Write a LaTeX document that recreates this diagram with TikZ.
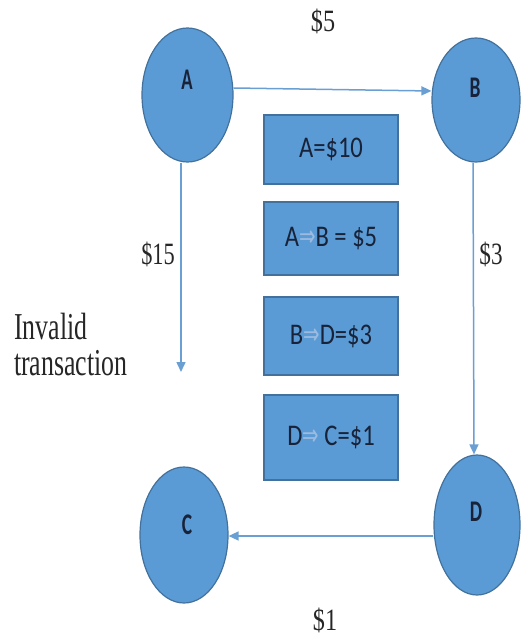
\documentclass[tikz,border=0pt]{standalone}
\usepackage{fontspec}
\usepackage{graphicx}
\setmainfont{Liberation Serif}
\newfontfamily\calib{Carlito}
\newfontfamily\djv{DejaVu Sans}
\usetikzlibrary{arrows.meta,shapes.geometric}
\definecolor{nodefill}{HTML}{5B9BD5}
\definecolor{nodeedge}{HTML}{41719C}
\definecolor{arrowcol}{HTML}{6A9FD4}
\definecolor{ink}{HTML}{18233A}
\definecolor{darrow}{HTML}{9DBBE0}
\newcommand{\sqz}[2]{\scalebox{#1}[1]{#2}}
\newcommand{\darr}{{\color{darrow}\djv\sqz{0.8}{⇒}}}
\tikzset{
  vert/.style={ellipse, draw=nodeedge, fill=nodefill, line width=1.2pt, inner sep=0pt},
  vlabel/.style={font=\calib\fontsize{30}{32}\selectfont, text=ink, inner sep=0pt},
  infobox/.style={rectangle, draw=nodeedge, fill=nodefill, line width=1.2pt, minimum width=134pt,
    font=\calib\fontsize{30}{32}\selectfont, text=ink, inner sep=0pt},
  amount/.style={font=\fontsize{31}{32}\selectfont, text=black!85, inner sep=0pt},
  arr/.style={draw=arrowcol, line width=1.5pt, -{Triangle[length=10pt,width=9pt]}}
}
\begin{document}
\begin{tikzpicture}[x=1pt,y=-1pt]
\useasboundingbox (0,0) rectangle (521,637);
% vertices
\node[vert, minimum width=91pt, minimum height=134pt] (A) at (187.5,95) {};
\node[vert, minimum width=88pt, minimum height=124pt] (B) at (476,100) {};
\node[vert, minimum width=88pt, minimum height=136pt] (C) at (184,535) {};
\node[vert, minimum width=86pt, minimum height=140pt] (D) at (477,525) {};
\node[vlabel] (Al) at (187,80) {\sqz{0.62}{\bfseries A}};
\node[vlabel] (Bl) at (475,88) {\sqz{0.65}{\bfseries B}};
\node[vlabel] (Cl) at (187,525) {\sqz{0.65}{\bfseries C}};
\node[vlabel] (Dl) at (476,512) {\sqz{0.65}{\bfseries D}};
% info boxes
\node[infobox, minimum height=69pt] (b1) at (331,149.5) {\sqz{0.82}{A=\$10}};
\node[infobox, minimum height=73pt] (b2) at (331,238.5) {\sqz{0.82}{A\darr B = \$5}};
\node[infobox, minimum height=78pt] (b3) at (331,336) {\sqz{0.82}{B\darr D=\$3}};
\node[infobox, minimum height=85pt] (b4) at (331,437.5) {\sqz{0.82}{D\darr\ C=\$1}};
% amounts
\node[amount] (l5) at (323,21) {\sqz{0.78}{\$5}};
\node[amount] (l15) at (158,254) {\sqz{0.72}{\$15}};
\node[amount] (l3) at (491,254) {\sqz{0.75}{\$3}};
\node[amount] (l1) at (325,620) {\sqz{0.78}{\$1}};
\node[font=\fontsize{38}{40}\selectfont, text=black!85, align=left, inner sep=0pt, anchor=north west] (inv) at (14,313)
  {\sqz{0.68}{Invalid}\\[-4pt]\sqz{0.68}{transaction}};
% connectors
\coordinate (invend) at (181,372);
\draw[arr] ([yshift=7pt]A.east) -- ([yshift=9pt]B.west);
\draw[arr] (A.south -| invend) -- (invend);
\draw[arr] ([xshift=-3pt]B.south) -- ([xshift=-3pt]D.north);
\draw[arr] ([yshift=-11pt]D.west) -- ([yshift=-1pt]C.east);
\end{tikzpicture}
\end{document}
